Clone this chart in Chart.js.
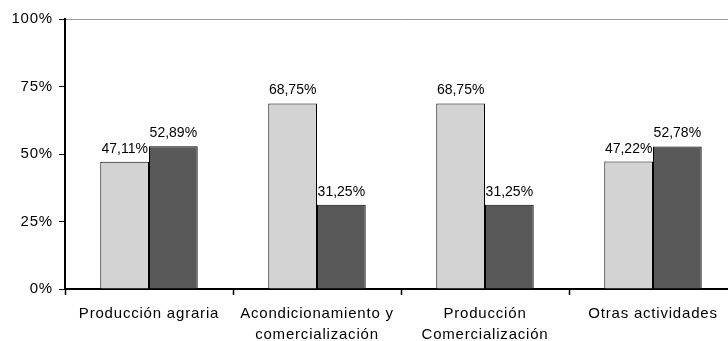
<!DOCTYPE html>
<html>
<head>
<meta charset="utf-8">
<script src="https://cdn.jsdelivr.net/npm/chart.js@4"></script>
<style>
  html, body { margin: 0; padding: 0; background: #fff; overflow: hidden; }
  #wrap { width: 737px; height: 341px; }
</style>
</head>
<body>
<div id="wrap"><canvas id="c" width="737" height="341"></canvas></div>
<script>
const categories = [
  ['Producción agraria'],
  ['Acondicionamiento y', 'comercialización'],
  ['Producción', 'Comercialización'],
  ['Otras actividades']
];
const seriesLight = [47.11, 68.75, 68.75, 47.22];
const seriesDark = [52.89, 31.25, 31.25, 52.78];
const yTicks = [0, 25, 50, 75, 100];

const FONT = '"Liberation Sans", Arial, sans-serif';

const spacingPlugin = {
  id: 'spacing',
  beforeLayout(chart) { chart.ctx.letterSpacing = '0.8px'; },
  beforeDraw(chart) { chart.ctx.letterSpacing = '0.8px'; }
};

const valueLabels = {
  id: 'valueLabels',
  afterDatasetsDraw(chart) {
    const ctx = chart.ctx;
    ctx.save();
    ctx.letterSpacing = '0px';
    ctx.font = '14px ' + FONT;
    ctx.fillStyle = '#000';
    ctx.textAlign = 'center';
    ctx.textBaseline = 'alphabetic';
    chart.data.datasets.forEach((ds, i) => {
      const meta = chart.getDatasetMeta(i);
      meta.data.forEach((el, j) => {
        const v = ds.data[j];
        const txt = v.toFixed(2).replace('.', ',') + '%';
        ctx.fillText(txt, el.x, el.y - 9);
      });
    });
    ctx.restore();
  }
};

new Chart(document.getElementById('c'), {
  type: 'bar',
  data: {
    labels: categories,
    datasets: [
      { data: seriesLight, backgroundColor: '#d3d3d3', borderColor: '#000', borderWidth: 1 },
      { data: seriesDark, backgroundColor: '#595959', borderColor: '#000', borderWidth: 1 }
    ]
  },
  options: {
    responsive: false,
    devicePixelRatio: 1,
    animation: false,
    layout: { padding: { top: 19, left: 0, right: 0, bottom: 0 } },
    plugins: { legend: { display: false }, tooltip: { enabled: false } },
    datasets: { bar: { categoryPercentage: 0.58, barPercentage: 1 } },
    scales: {
      x: {
        offset: true,
        grid: {
          offset: true,
          drawOnChartArea: false,
          drawTicks: true,
          tickLength: 6,
          tickColor: '#000',
          tickWidth: 1.5
        },
        border: { color: '#000', width: 2 },
        ticks: {
          color: '#000',
          font: { family: FONT, size: 15, lineHeight: 1.43 },
          padding: 8,
          maxRotation: 0,
          autoSkip: false
        },
        afterFit(s) { s.height = 52; }
      },
      y: {
        min: 0,
        max: 100,
        afterBuildTicks(s) { s.ticks = yTicks.map(v => ({ value: v })); },
        grid: {
          color: ctx => (ctx.tick && ctx.tick.value === 100 ? '#9a9a9a' : 'rgba(0,0,0,0)'),
          tickColor: '#000',
          tickLength: 6,
          drawTicks: true
        },
        border: { color: '#000', width: 2 },
        ticks: {
          color: '#000',
          font: { family: FONT, size: 15 },
          padding: 6,
          callback: v => v + '%'
        },
        afterFit(s) { s.width = 65; }
      }
    }
  },
  plugins: [spacingPlugin, valueLabels]
});
</script>
</body>
</html>
